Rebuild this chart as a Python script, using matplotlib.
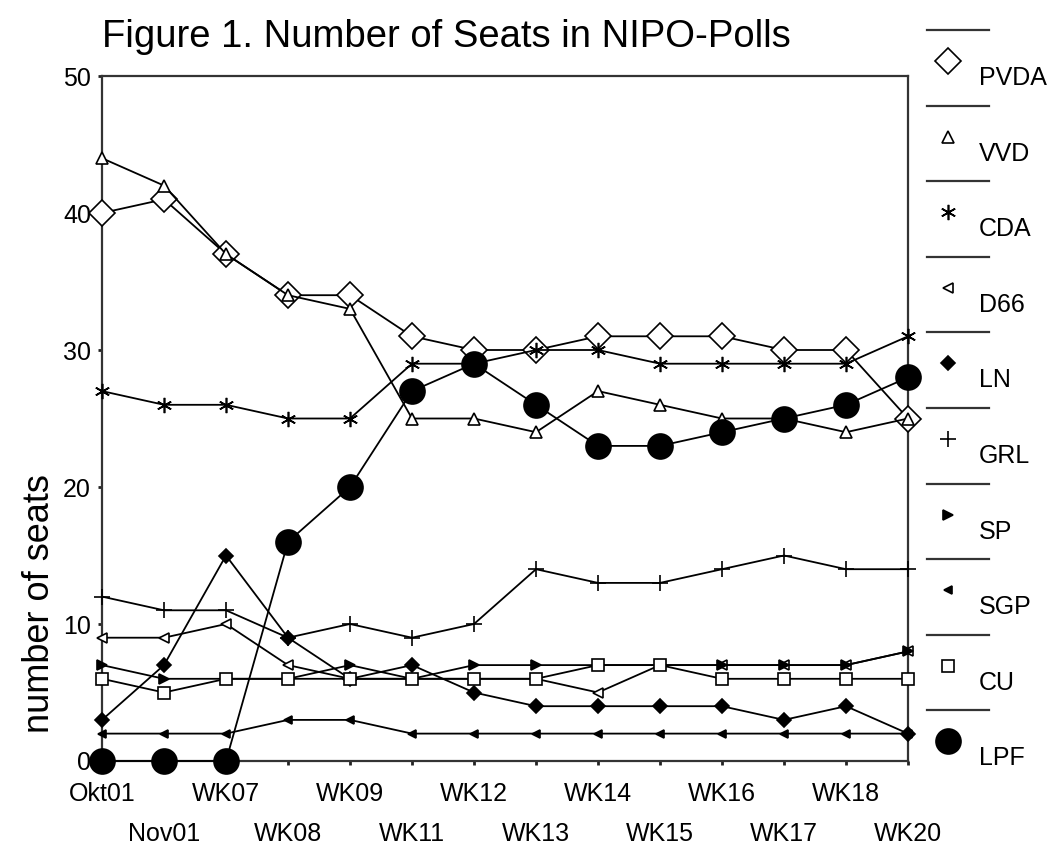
import matplotlib.pyplot as plt

plt.rcParams['font.family'] = ['Liberation Sans', 'DejaVu Sans']

# poll dates (x categories)
weeks = ['Okt01', 'Nov01', 'WK07', 'WK08', 'WK09', 'WK11', 'WK12',
         'WK13', 'WK14', 'WK15', 'WK16', 'WK17', 'WK18', 'WK20']

# seats per party
pvda = [40, 41, 37, 34, 34, 31, 30, 30, 31, 31, 31, 30, 30, 25]
vvd = [44, 42, 37, 34, 33, 25, 25, 24, 27, 26, 25, 25, 24, 25]
cda = [27, 26, 26, 25, 25, 29, 29, 30, 30, 29, 29, 29, 29, 31]
d66 = [9, 9, 10, 7, 6, 6, 6, 6, 5, 7, 7, 7, 7, 8]
ln = [3, 7, 15, 9, 6, 7, 5, 4, 4, 4, 4, 3, 4, 2]
grl = [12, 11, 11, 9, 10, 9, 10, 14, 13, 13, 14, 15, 14, 14]
sp = [7, 6, 6, 6, 7, 6, 7, 7, 7, 7, 7, 7, 7, 8]
sgp = [2, 2, 2, 3, 3, 2, 2, 2, 2, 2, 2, 2, 2, 2]
cu = [6, 5, 6, 6, 6, 6, 6, 6, 7, 7, 6, 6, 6, 6]
lpf = [0, 0, 0, 16, 20, 27, 29, 26, 23, 23, 24, 25, 26, 28]

parties = ['PVDA', 'VVD', 'CDA', 'D66', 'LN', 'GRL', 'SP', 'SGP', 'CU', 'LPF']
series = [pvda, vvd, cda, d66, ln, grl, sp, sgp, cu, lpf]

# marker, size, face colour
styles = [
    ('D', 13, 'white'),
    ('^', 8, 'white'),
    ((6, 2, 0), 11, 'black'),
    ('<', 7.5, 'white'),
    ('D', 7, 'black'),
    ('+', 11, 'black'),
    ('>', 7, 'black'),
    ('<', 5.5, 'black'),
    ('s', 8.5, 'white'),
    ('o', 18, 'black'),
]

W, H = 1051, 849
fig = plt.figure(figsize=(W / 100, H / 100), dpi=100)
ax = fig.add_axes([102 / W, 1 - 761 / H, (908 - 102) / W, (761 - 76) / H])

x = list(range(len(weeks)))
for i in range(len(parties)):
    m, ms, fc = styles[i]
    ax.plot(x, series[i], color='black', lw=1.3, marker=m, ms=ms,
            mfc=fc, mec='black', mew=1.2, clip_on=False, zorder=3 + i * 0.1)

ax.set_xlim(0, len(weeks) - 1)
ax.set_ylim(0, 50)
ax.set_yticks(range(0, 51, 10))

# labels alternate between two rows
ax.set_xticks(x[::2])
ax.set_xticklabels(weeks[::2])
ax.set_xticks(x[1::2], minor=True)
ax.set_xticklabels(weeks[1::2], minor=True)

ax.tick_params(axis='both', which='both', direction='out', length=3,
               width=2, labelsize=18, color='#222222')
ax.tick_params(axis='x', which='major', pad=12)
ax.tick_params(axis='x', which='minor', pad=41)
ax.tick_params(axis='y', pad=5)

for s in ax.spines.values():
    s.set_linewidth(1.6)
    s.set_color('#333333')

fig.text(446 / W, 1 - 37 / H, 'Figure 1. Number of Seats in NIPO-Polls',
         ha='center', va='center', fontsize=27.5)
fig.text(40 / W, 1 - 604 / H, 'number of seats', rotation=90,
         ha='center', va='center', fontsize=26)

# legend column on the right, laid out in pixel units
lax = fig.add_axes([0, 0, 1, 1])
lax.set_xlim(0, W)
lax.set_ylim(H, 0)
lax.axis('off')
top, step = 30, 75.6
for i, name in enumerate(parties):
    m, ms, fc = styles[i]
    y0 = top + i * step
    lax.plot([927, 989], [y0, y0], color='#333333', lw=1.6)
    lax.plot([948], [y0 + 31], marker=m, ms=ms, mfc=fc, mec='black',
             mew=1.2, color='black')
    lax.text(979, y0 + 48, name, ha='left', va='center', fontsize=18)

fig.savefig('out.png', dpi=100)
